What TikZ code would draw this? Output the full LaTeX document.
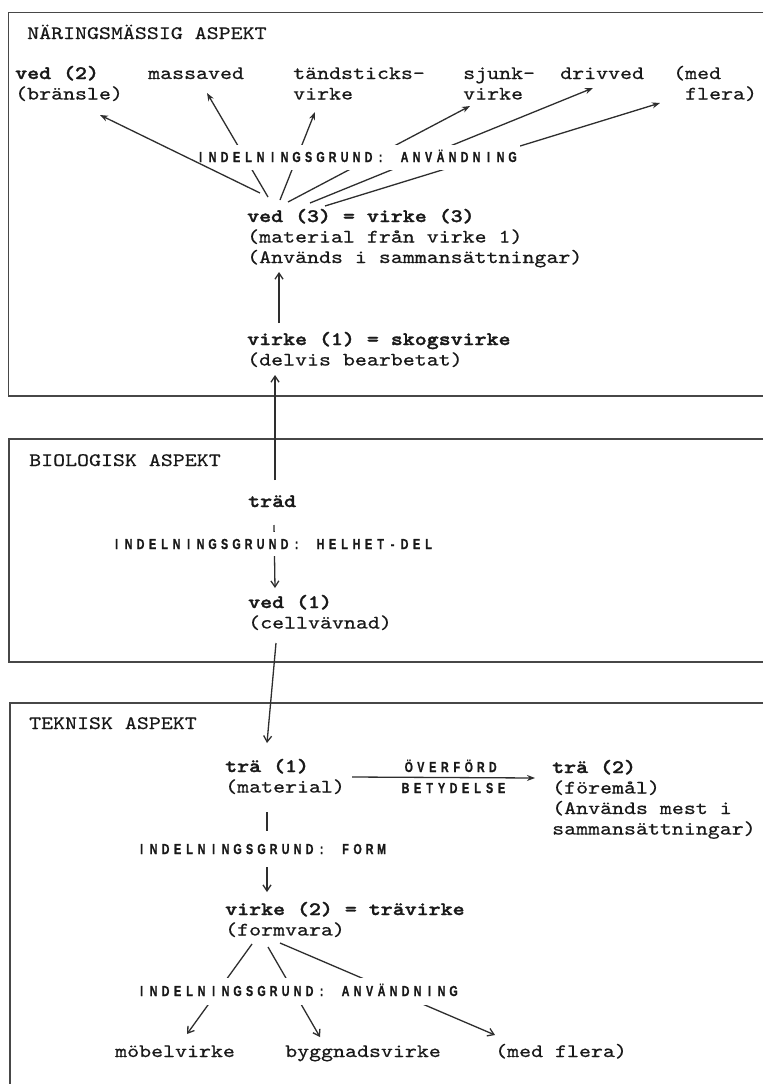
\documentclass[tikz,border=0pt]{standalone}
\usepackage{fontspec}
\usetikzlibrary{arrows.meta}
\newfontfamily\cour{lmmono10-regular}[Extension=.otf, BoldFont=lmmonolt10-bold, FakeStretch=1.2, UprightFeatures={FakeBold=0.6}, BoldFeatures={FakeBold=1.6}]
\newfontfamily\lblf{Liberation Sans}[FakeStretch=0.74, BoldFeatures={FakeBold=0.8}]
\ExplSyntaxOn
\NewDocumentCommand\spaced{O{12pt}m}{\tl_map_inline:nn{#2}{\makebox[#1][c]{##1}}}
\ExplSyntaxOff
\tikzset{
  txt/.style={anchor=base west, inner sep=0pt, align=left, font=\cour\fontsize{19}{20.5}\selectfont, text=black!90},
  lbl/.style={anchor=west, inner xsep=1pt, inner ysep=0pt, text height=10pt, text depth=0pt, font=\lblf\bfseries\fontsize{14.5}{15}\selectfont, text=black!90},
  cover/.style={fill=white, inner ysep=#1},
  ln/.style={line width=1.3pt, draw=black!82},
  tipS/.style={ln, -{Stealth[length=8pt,width=6pt]}},
  tipV/.style={ln, -{Straight Barb[length=6pt,width=8pt]}},
  boxline/.style={line width=1.6pt, draw=black!72},
}
\begin{document}
\begin{tikzpicture}[x=1pt,y=-1pt]
\fill[white] (0,0) rectangle (763,1084);
\useasboundingbox (0,0) rectangle (763,1084);
% frames
\draw[boxline] (763,12.5) -- (8.5,12.5) -- (8.5,396) -- (763,396);
\draw[boxline] (763,439) -- (9,439) -- (9,662) -- (763,662);
\draw[boxline] (763,703) -- (10,703) -- (10,1084);
% titles
\node[txt] (t1) at (27,39) {NÄRINGSMÄSSIG ASPEKT};
\node[txt] (t2) at (29,466) {BIOLOGISK ASPEKT};
\node[txt] (t3) at (29,729) {TEKNISK ASPEKT};
% top section (base anchor = last line)
\node[txt] (ved2) at (15,99.5) {\textbf{ved (2)}\\(bränsle)};
\node[txt] (massa) at (148,79) {massaved};
\node[txt] (tand) at (293,99.5) {tändsticks-\\virke};
\node[txt] (sjunk) at (463,99.5) {sjunk-\\virke};
\node[txt] (driv) at (560,79) {drivved};
\node[txt] (flera1) at (673,99.5) {(med\\\phantom{(}flera)};
\node[txt] (ved3) at (247,263) {\textbf{ved (3) = virke (3)}\\(material från virke 1)\\(Används i sammansättningar)};
\node[txt] (virke1) at (247,365.5) {\textbf{virke (1) = skogsvirke}\\(delvis bearbetat)};
\coordinate (fs1) at (260,193); \coordinate (fe1) at (100,115);
\coordinate (fs2) at (268,197); \coordinate (fe2) at (207,93);
\coordinate (fs3) at (280,200); \coordinate (fe3) at (315,112);
\coordinate (fs4) at (288,202); \coordinate (fe4) at (470,106);
\coordinate (fs5) at (310,203); \coordinate (fe5) at (593,88);
\coordinate (fs6) at (325,206); \coordinate (fe6) at (660,103);
\draw[tipS] (fs2) -- (fe2);
\draw[tipS] (fs3) -- (fe3);
\draw[tipS] (fs4) -- (fe4);
\draw[tipS] (fs5) -- (fe5);
\draw[tipS] (fs6) -- (fe6);
\node[lbl, cover=7.5pt] (use1) at (193.4,157) {\spaced{INDELNINGSGRUND:~ANVÄNDNING}};
\draw[tipS] (fs1) -- (fe1);
\coordinate (v1a) at (279,323); \coordinate (v3b) at (279,272);
\draw[tipV] (v1a) -- (v3b);
% middle section
\node[txt] (trad) at (248,507) {\textbf{träd}};
\node[txt] (ved1) at (248,628.5) {\textbf{ved (1)}\\(cellvävnad)};
\coordinate (tra) at (275,480); \coordinate (v1b) at (275,375);
\draw[tipV] (tra) -- (v1b);
\coordinate (trb) at (274,525); \coordinate (v1t) at (275,588);
\draw[tipV] (trb) -- (v1t);
\node[lbl, cover=6.75pt] (hd) at (109.4,544) {\spaced{INDELNINGSGRUND:~HELHET-DEL}};
\coordinate (v1s) at (276,643); \coordinate (t1n) at (267,743);
\draw[tipV] (v1s) -- (t1n);
% bottom section
\node[txt] (tra1) at (225,792.5) {\textbf{trä (1)}\\(material)};
\node[txt] (tra2) at (552,834.5) {\textbf{trä (2)}\\(föremål)\\(Används mest i\\sammansättningar)};
\coordinate (oa) at (352,777); \coordinate (ob) at (535,778);
\draw[tipS] (oa) -- (ob);
\node[lbl, inner ysep=0pt] (ov) at (401.6,767) {\spaced{ÖVERFÖRD}};
\node[lbl, inner ysep=0pt] (bt) at (398.4,788) {\spaced{BETYDELSE}};
\node[txt] (virke2) at (225,935.5) {\textbf{virke (2) = trävirke}\\(formvara)};
\coordinate (t1s) at (267,812); \coordinate (v2n) at (267,892);
\draw[tipV] (t1s) -- (v2n);
\node[lbl, cover=12.75pt] (form) at (134.4,849) {\spaced{INDELNINGSGRUND:~FORM}};
\node[txt] (mobel) at (115,1057) {möbelvirke};
\node[txt] (bygg) at (285,1057) {byggnadsvirke};
\node[txt] (flera2) at (495,1057) {(med flera)};
\coordinate (bs1) at (252,944); \coordinate (be1) at (187,1034);
\coordinate (bs2) at (268,947); \coordinate (be2) at (320,1037);
\coordinate (bs3) at (280,943); \coordinate (be3) at (495,1035);
\draw[tipV] (bs1) -- (be1);
\draw[tipV] (bs2) -- (be2);
\draw[tipV] (bs3) -- (be3);
\node[lbl, cover=8.5pt] (use2) at (134.4,991) {\spaced{INDELNINGSGRUND:~ANVÄNDNING}};
\end{tikzpicture}
\end{document}
